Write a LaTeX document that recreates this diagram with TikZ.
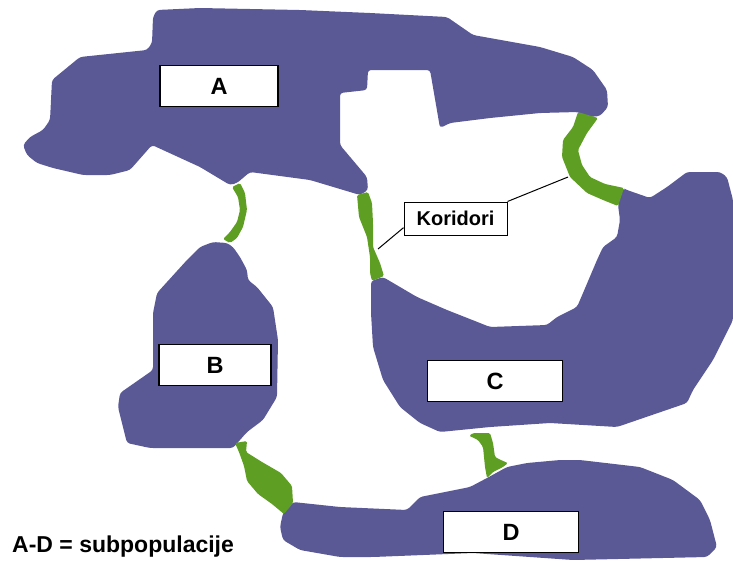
\documentclass[tikz,border=0pt]{standalone}
\usepackage{fontspec}
\setmainfont{Liberation Sans}
\usepackage{tikz}
\definecolor{patch}{RGB}{90,89,150}
\definecolor{corr}{RGB}{94,158,34}

\begin{document}
\begin{tikzpicture}[x=1pt,y=-1pt,
  area/.style={fill=patch, rounded corners=3pt},
  corridor/.style={fill=corr, rounded corners=1.5pt},
  patchlabel/.style={draw=black, line width=1.2pt, fill=white, minimum height=41pt,
    inner sep=0pt, font=\fontsize{23.5}{25}\selectfont\bfseries}]
  \useasboundingbox (0,0) rectangle (733,571);
  % subpopulation A
  \fill[area] (157,10) -- (200,8) -- (300,10) -- (370,13) -- (447,17) -- (473,35) -- (540,47)
    -- (573,57) -- (593,70) -- (607,90) -- (608,107) -- (600,116) -- (588,117) -- (578,112)
    -- (540,113) -- (490,118) -- (450,123) -- (440,128) -- (430,70) -- (368,70) -- (367,90)
    -- (340,93) -- (340,145) -- (367,177) -- (368,190) -- (360,195) -- (310,180) -- (250,172)
    -- (237,183) -- (230,185) -- (200,167) -- (152,145) -- (130,170) -- (110,175) -- (83,175)
    -- (53,168) -- (37,163) -- (27,155) -- (23,145) -- (30,137) -- (43,130) -- (50,120)
    -- (52,80) -- (80,57) -- (147,50) -- (152,43) -- (153,17) -- cycle;
  % subpopulation B
  \fill[area] (200,247) -- (213,242) -- (227,243) -- (233,247) -- (240,257) -- (247,270)
    -- (248,280) -- (257,287) -- (273,307) -- (278,340) -- (277,397) -- (263,420) -- (247,432)
    -- (233,448) -- (150,448) -- (127,443) -- (118,407) -- (120,393) -- (153,370) -- (153,313)
    -- (157,293) -- (187,260) -- cycle;
  % subpopulation C
  \fill[area] (618,205) -- (623,188) -- (627,190) -- (650,198) -- (667,187) -- (687,172)
    -- (720,172) -- (727,177) -- (733,200) -- (733,320) -- (713,360) -- (693,390) -- (687,403)
    -- (617,427) -- (550,423) -- (490,427) -- (460,430) -- (440,432) -- (420,423) -- (400,407)
    -- (383,380) -- (373,347) -- (371,313) -- (371,281) -- (383,277) -- (417,297) -- (447,310)
    -- (480,323) -- (490,327) -- (547,325) -- (557,317) -- (577,307) -- (583,293) -- (597,260)
    -- (603,247) -- (617,237) -- (620,220) -- cycle;
  % subpopulation D
  \fill[area] (293,502) -- (340,507) -- (407,510) -- (420,497) -- (470,487) -- (487,478)
    -- (507,467) -- (527,463) -- (560,460) -- (580,460) -- (640,467) -- (673,480) -- (700,500)
    -- (710,520) -- (717,547) -- (707,557) -- (573,560) -- (473,553) -- (373,557) -- (340,557)
    -- (300,550) -- (283,540) -- (280,527) -- (283,513) -- cycle;
  % corridors
  \fill[corridor] (232,187) -- (240,183) -- (245,193) -- (247,210) -- (243,227) -- (237,238)
    -- (230,243) -- (223,239) -- (230,232) -- (237,222) -- (240,210) -- (238,197) -- cycle;
  \fill[corridor] (357,195) -- (368,192) -- (372,203) -- (373,223) -- (373,247) -- (380,263)
    -- (384,276) -- (372,281) -- (370,273) -- (370,257) -- (367,237) -- (359,217) -- cycle;
  \fill[corridor] (578,112) -- (573,127) -- (563,140) -- (562,157) -- (570,177) -- (587,193)
    -- (603,200) -- (618,206) -- (624,188) -- (605,184) -- (590,177) -- (582,165) -- (578,150)
    -- (587,133) -- (598,118) -- cycle;
  \fill[corridor] (235,443) -- (247,441) -- (246,452) -- (262,462) -- (281,473) -- (292,486)
    -- (293,503) -- (284,514) -- (272,504) -- (258,494) -- (247,481) -- (244,466) -- (239,452) -- cycle;
  \fill[corridor] (469,436) -- (473,433) -- (490,433) -- (493,443) -- (495,457) -- (503,461)
    -- (508,463) -- (503,467) -- (493,472) -- (487,478) -- (485,467) -- (483,447) -- (478,440)
    -- (472,437) -- cycle;
  % labels
  \foreach \n/\x/\y/\w in {A/219/86/118, B/215/365/112, C/495/381/135, D/511/532/135}
    \node[patchlabel, minimum width=\w pt] (box\n) at (\x,\y) {\n};
  \node[draw=black, line width=1pt, fill=white, minimum width=103pt, minimum height=33pt,
    inner sep=0pt, font=\fontsize{20}{22}\selectfont\bfseries] (kor) at (455.5,218.5) {Koridori};
  \coordinate (korL) at (378,249);
  \coordinate (korR) at (568,177);
  \draw[line width=1pt] (kor.190) -- (korL);
  \draw[line width=1pt] (kor.north east) -- (korR);
  \node[anchor=base west, inner sep=0pt, font=\fontsize{23}{25}\selectfont\bfseries] (legend)
    at (12,552) {A-D = subpopulacije};
\end{tikzpicture}
\end{document}
